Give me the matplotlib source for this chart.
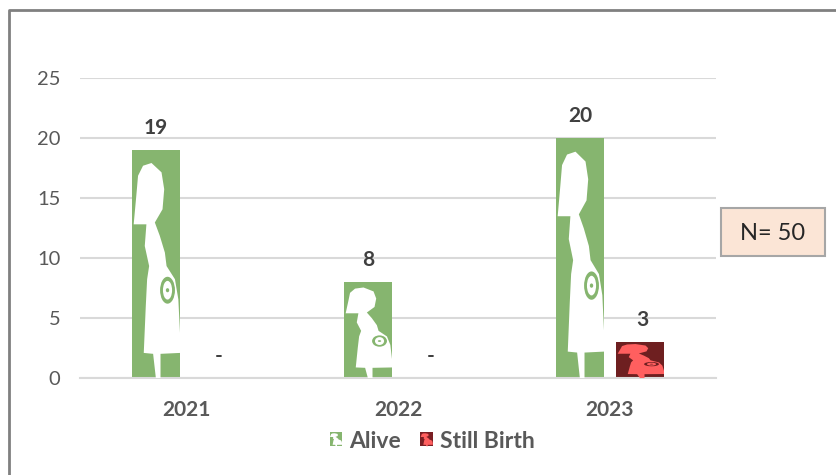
import matplotlib.pyplot as plt
from matplotlib.legend_handler import HandlerBase
from matplotlib.lines import Line2D
from matplotlib.patches import Ellipse, Patch, Polygon, Rectangle

plt.rcParams['font.family'] = ['Lato', 'DejaVu Sans']

years = ['2021', '2022', '2023']
alive = [19, 8, 20]
still_birth = [0, 0, 3]
alive_labels = ['19', '8', '20']
still_labels = ['-', '-', '3']
y_ticks = [0, 5, 10, 15, 20, 25]

GREEN = '#86B56F'
DARK_RED = '#6E1F20'
LIGHT_RED = '#FF5F5F'
TEXT = '#595959'
GRID = '#D9D9D9'

# outline of the pregnant woman, as fractions of the bar (x, y)
woman = [(.406, .943), (.615, .902), (.671, .828), (.636, .74), (.476, .682), (.58, .623), (.685, .55),
         (.72, .491), (.895, .433), (.965, .345), (.986, .257), (1.0, .198), (1.0, .11), (.594, .106),
         (.594, 0), (.497, 0), (.44, .106), (.245, .11), (.287, .315), (.315, .433), (.357, .491),
         (.266, .579), (.30, .674), (.035, .674), (.09, .80), (.126, .887), (.23, .931)]


def draw_woman(ax, x, y, w, h, body, back, zorder=3):
    # the picture is stretched to fill each bar
    pts = [(x + w * u, y + h * v) for u, v in woman]
    ax.add_patch(Polygon(pts, closed=True, fc=body, ec='none', zorder=zorder))
    ax.add_patch(Ellipse((x + w * .74, y + h * .385), w * .31, h * .118, fc=back, ec='none', zorder=zorder + 1))
    ax.add_patch(Ellipse((x + w * .74, y + h * .385), w * .19, h * .082, fc=body, ec='none', zorder=zorder + 2))
    ax.add_patch(Ellipse((x + w * .74, y + h * .385), w * .07, h * .018, fc=back, ec='none', zorder=zorder + 3))


class WomanHandler(HandlerBase):
    def create_artists(self, legend, orig_handle, xdescent, ydescent, width, height, fontsize, trans):
        back = orig_handle.get_facecolor()
        body = orig_handle.get_edgecolor()
        x, y = -xdescent, -ydescent
        rect = Rectangle((x, y), width, height, fc=back, ec='none', transform=trans)
        pts = [(x + width * u, y + height * v) for u, v in woman]
        return [rect, Polygon(pts, closed=True, fc=body, ec='none', transform=trans)]


fig = plt.figure(figsize=(8.37, 4.75), dpi=100)
ax = fig.add_axes([80 / 837, 1 - 378 / 475, 636 / 837, 300 / 475])

offset = 30 / 212
width = 48 / 212
positions = list(range(len(years)))

alive_bars = ax.bar([p - offset for p in positions], alive, width, color=GREEN, zorder=2)
still_bars = ax.bar([p + offset for p in positions], still_birth, width, color=DARK_RED, zorder=2)

for bar in alive_bars:
    draw_woman(ax, bar.get_x(), 0, bar.get_width(), bar.get_height(), 'white', GREEN)
for bar in still_bars:
    if bar.get_height() > 0:
        draw_woman(ax, bar.get_x(), 0, bar.get_width(), bar.get_height(), LIGHT_RED, DARK_RED)

for bar, lab in zip(alive_bars, alive_labels):
    ax.annotate(lab, (bar.get_x() + bar.get_width() / 2, bar.get_height()), xytext=(0, 16),
                textcoords='offset points', ha='center', va='center', fontsize=15, fontweight='bold', color='#404040')
for bar, lab in zip(still_bars, still_labels):
    ax.annotate(lab, (bar.get_x() + bar.get_width() / 2 + 0.012, bar.get_height()), xytext=(0, 16),
                textcoords='offset points', ha='center', va='center', fontsize=15, fontweight='bold', color='#404040')

ax.set_xlim(-0.5, 2.5)
ax.set_ylim(0, 25)
ax.set_yticks(y_ticks)
ax.set_xticks(positions)
ax.set_xticklabels(years, fontsize=15, fontweight='bold', color=TEXT)
ax.tick_params(axis='y', length=0, pad=14, labelsize=14.5, labelcolor=TEXT)
ax.tick_params(axis='x', length=0, pad=16)
ax.grid(axis='y', color=GRID, linewidth=1.5, zorder=1)
ax.set_axisbelow(True)
for side in ['top', 'right', 'left']:
    ax.spines[side].set_visible(False)
ax.spines['bottom'].set_color(GRID)
ax.spines['bottom'].set_linewidth(1.5)

handles = [Patch(facecolor=GREEN, edgecolor='white', label='Alive'),
           Patch(facecolor='#7A1F24', edgecolor=LIGHT_RED, label='Still Birth')]
ax.legend(handles=handles, handler_map={Patch: WomanHandler()}, loc='center', ncol=2, frameon=False,
          bbox_to_anchor=(432 / 837, 1 - 441 / 475), bbox_transform=fig.transFigure,
          prop={'size': 16.5, 'weight': 'bold'}, labelcolor=TEXT, handlelength=0.55, handleheight=0.55,
          handletextpad=0.3, columnspacing=0.85)

# frame round the picture: no line on the right or at the bottom
fig.add_artist(Line2D([9 / 837, 9 / 837, 1], [0, 1 - 10 / 475, 1 - 10 / 475],
                      color='#808080', linewidth=2))

# box with the total
fig.add_artist(Rectangle((721 / 837, 1 - 256 / 475), 104 / 837, 48 / 475, transform=fig.transFigure,
                         fc='#FBE5D6', ec='#A6A6A6', linewidth=1.5))
fig.text(773 / 837, 1 - 233 / 475, 'N= 50', ha='center', va='center', fontsize=17, color='#262626')

fig.savefig('out.png', dpi=100)
